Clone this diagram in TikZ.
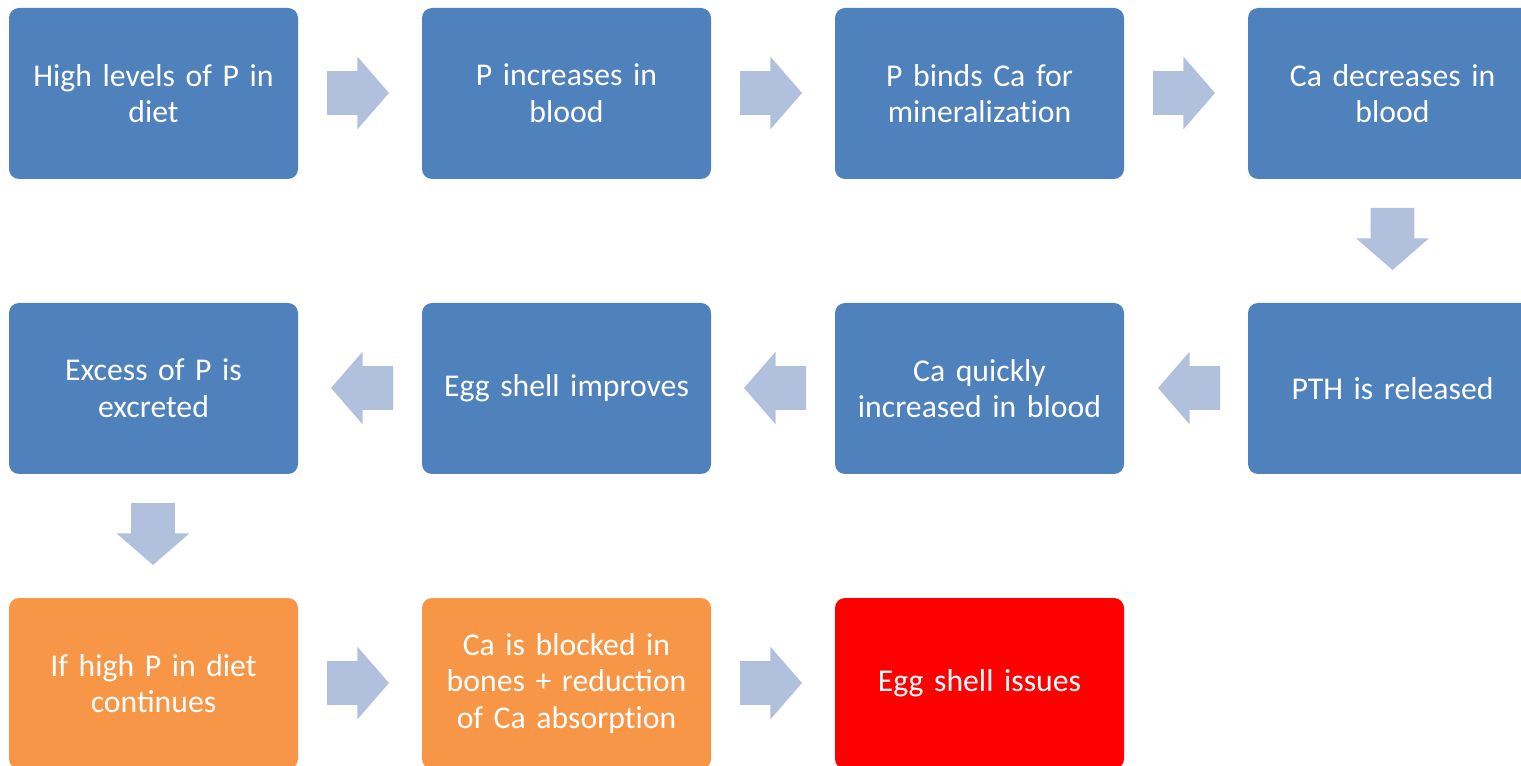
\documentclass[tikz,border=0pt]{standalone}
\usepackage{fontspec}
\setmainfont{Carlito}
\newcommand*{\boxfont}{\fontsize{23.8}{27.5}\selectfont}
\definecolor{B}{HTML}{4F81BD}
\definecolor{O}{HTML}{F79646}
\definecolor{R}{HTML}{FF0000}
\definecolor{A}{HTML}{B1C1DD}
\usetikzlibrary{shapes.arrows}
\tikzstyle{base}=[inner sep=0pt, outer sep=0pt, x=0.75pt, y=-0.75pt]
\tikzstyle{box}=[rectangle, rounded corners=7.5pt, minimum width=216.75pt, minimum height=128.25pt, text width=210pt, align=center, text=white, font=\boxfont]
\tikzstyle{blk}=[single arrow, fill=A, anchor=tail, inner xsep=0pt, inner ysep=16.125pt, minimum height=46.5pt, minimum width=54pt, single arrow head extend=10.875pt, single arrow tip angle=98]
\tikzstyle{blkdown}=[blk, shape border rotate=270, inner xsep=16.125pt, inner ysep=0pt]
\tikzstyle{blkleft}=[blk, shape border rotate=180]

\begin{document}
\begin{tikzpicture}[base]
    \path [use as bounding box] (0,0) rectangle (1521,766);
        % row 1
        \node [box, fill=B] (diet) at (153.5,93.5) {High levels of P in\\diet};
        \node [box, fill=B] (pblood) at (566.5,93.5) {P increases in\\blood};
        \node [box, fill=B] (pbinds) at (979.5,93.5) {P binds Ca for\\mineralizat\kern0pt ion};
        \node [box, fill=B] (cadecr) at (1392.5,93.5) {Ca decreases in\\blood};
        % row 2
        \node [box, fill=B] (pth) at (1392.5,388.5) {PTH is released};
        \node [box, fill=B] (caincr) at (979.5,388.5) {Ca quickly\\increased in blood};
        \node [box, fill=B] (improves) at (566.5,388.5) {Egg shell improves};
        \node [box, fill=B] (excreted) at (153.5,388.5) {Excess of P is\\excreted};
        % row 3
        \node [box, fill=O] (continues) at (153.5,683.5) {If high P in diet\\continues};
        \node [box, fill=O] (blocked) at (566.5,683.5) {Ca is blocked in\\bones + reduction\\of Ca absorpt\kern0pt ion};
        \node [box, fill=R] (issues) at (979.5,683.5) {Egg shell issues};
        % block arrows, placed by their tails
        \node [blk] (a1) at (327,93) {};
        \node [blk] (a2) at (740,93) {};
        \node [blk] (a3) at (1153,93) {};
        \node [blkdown] (a4) at (1392.5,208) {};
        \node [blkleft] (a5) at (1220,388) {};
        \node [blkleft] (a6) at (806,388) {};
        \node [blkleft] (a7) at (393,388) {};
        \node [blkdown] (a8) at (153,503) {};
        \node [blk] (a9) at (327,683) {};
        \node [blk] (a10) at (740,683) {};
    \end{tikzpicture}
\end{document}
